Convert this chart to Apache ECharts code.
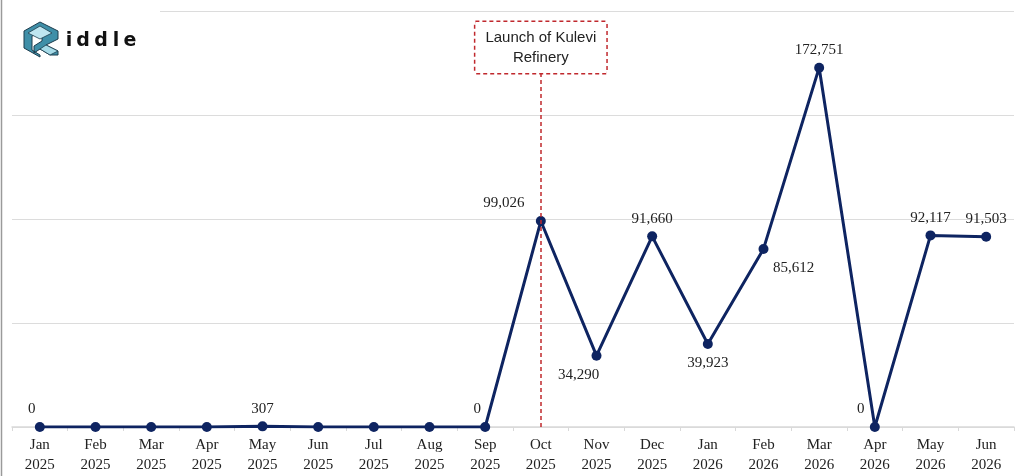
<!DOCTYPE html>
<html lang="en" style="height:100%">
<head>
<meta charset="UTF-8">
<title>Kulevi Refinery</title>
<script src="https://cdn.jsdelivr.net/npm/echarts@6/dist/echarts.min.js"></script>
</head>
<body style="height:100%;margin:0;background:#fff">
<div id="main" style="width:1024px;height:476px;"></div>
<script type="text/javascript">
var months = ['Jan\n2025', 'Feb\n2025', 'Mar\n2025', 'Apr\n2025', 'May\n2025', 'Jun\n2025',
    'Jul\n2025', 'Aug\n2025', 'Sep\n2025', 'Oct\n2025', 'Nov\n2025', 'Dec\n2025',
    'Jan\n2026', 'Feb\n2026', 'Mar\n2026', 'Apr\n2026', 'May\n2026', 'Jun\n2026'];
var volumes = [0, 0, 0, 0, 307, 0, 0, 0, 0, 99026, 34290, 91660, 39923, 85612, 172751, 0, 92117, 91503];
// which points show a label, and where
var labelPlace = [
    {pos: 'top', dx: -8}, null, null, null, {pos: 'top', dx: 0}, null, null, null,
    {pos: 'top', dx: -8}, {pos: 'top', dx: -37}, {pos: 'bottom', dx: -18}, {pos: 'top', dx: 0},
    {pos: 'bottom', dx: 0}, {pos: 'bottom', dx: 30}, {pos: 'top', dx: 0}, {pos: 'top', dx: -14},
    {pos: 'top', dx: 0}, {pos: 'top', dx: 0}
];
var eventMonth = 'Oct\n2025';
var eventText = 'Launch of Kulevi\nRefinery';

var serif = '"Liberation Serif", "Times New Roman", serif';
var navy = '#0e2461';

var points = volumes.map(function (v, i) {
    var p = labelPlace[i];
    var item = {value: v};
    if (p) {
        item.label = {
            show: true,
            position: p.pos,
            offset: [p.dx, 0],
            distance: p.pos === 'bottom' ? 7 : 5
        };
    }
    return item;
});

// logo letters, spaced out like the brand mark
var logoLetters = ['i', 'd', 'd', 'l', 'e'];
var logoX = [69, 83, 101, 116, 130];
var logoParts = logoLetters.map(function (ch, i) {
    return {
        type: 'text', x: logoX[i], y: 41, z: 60,
        style: {
            text: ch, fill: '#111', align: 'center', verticalAlign: 'middle',
            font: 'bold 19px "DejaVu Sans", sans-serif'
        }
    };
});

var myChart = echarts.init(document.getElementById('main'));
var option = {
    animation: false,
    grid: {left: 12, right: 10, top: 11, bottom: 49},
    xAxis: {
        type: 'category',
        data: months,
        boundaryGap: true,
        axisLine: {lineStyle: {color: '#d9d9d9', width: 1.5}},
        axisTick: {show: true, length: 4, lineStyle: {color: '#d9d9d9'}},
        axisLabel: {
            color: '#222',
            fontFamily: serif,
            fontSize: 15,
            lineHeight: 20,
            margin: 8,
            interval: 0
        }
    },
    yAxis: {
        type: 'value',
        min: 0,
        max: 200000,
        interval: 50000,
        axisLabel: {show: false},
        axisLine: {show: false},
        axisTick: {show: false},
        splitLine: {lineStyle: {color: '#dcdcdc', width: 1}}
    },
    series: [{
        type: 'line',
        data: points,
        symbol: 'circle',
        symbolSize: 10,
        lineStyle: {color: navy, width: 3},
        itemStyle: {color: navy},
        label: {
            show: false,
            color: '#222',
            fontFamily: serif,
            fontSize: 15,
            formatter: function (p) { return p.value.toLocaleString('en-US'); }
        },
        markLine: {
            silent: true,
            symbol: ['none', 'none'],
            lineStyle: {color: '#c0282d', type: [4, 3], width: 1.5},
            label: {
                show: true,
                position: 'start',
                distance: 0,
                formatter: eventText,
                color: '#222',
                fontFamily: '"Liberation Sans", Arial, sans-serif',
                fontSize: 15,
                lineHeight: 20,
                backgroundColor: '#fff',
                borderColor: '#c0282d',
                borderWidth: 1.5,
                borderType: [4, 3],
                padding: [6, 10, 5, 10]
            },
            data: [[{xAxis: eventMonth, yAxis: 170200}, {xAxis: eventMonth, yAxis: 0}]]
        }
    }],
    graphic: [
        {type: 'line', shape: {x1: 1.5, y1: 0, x2: 1.5, y2: 476}, style: {stroke: '#9a9a9a', lineWidth: 1.5}, z: 100},
        {type: 'rect', shape: {x: 12, y: 0, width: 148, height: 80}, style: {fill: '#fff'}, z: 50},
        {type: 'polygon', z: 60, shape: {points: [[24, 31], [40, 22], [58, 31], [58, 39], [46, 45], [58, 51], [58, 55], [50, 55], [40, 49], [34, 53], [34, 46], [42, 41], [42, 34], [40, 32], [32, 36], [32, 50], [40, 55], [40, 57], [24, 48]]}, style: {fill: '#3f8fa8', stroke: '#1d3c4d', lineWidth: 1}},
        {type: 'polygon', z: 61, shape: {points: [[28, 33], [40, 26], [52, 33], [40, 39]]}, style: {fill: '#bfe6f0', stroke: '#1d3c4d', lineWidth: 0.8}},
        {type: 'polygon', z: 61, shape: {points: [[46, 45], [58, 51], [50, 55], [40, 49]]}, style: {fill: '#a6dbe8', stroke: '#1d3c4d', lineWidth: 0.8}}
    ].concat(logoParts)
};
myChart.setOption(option);
</script>
</body>
</html>
